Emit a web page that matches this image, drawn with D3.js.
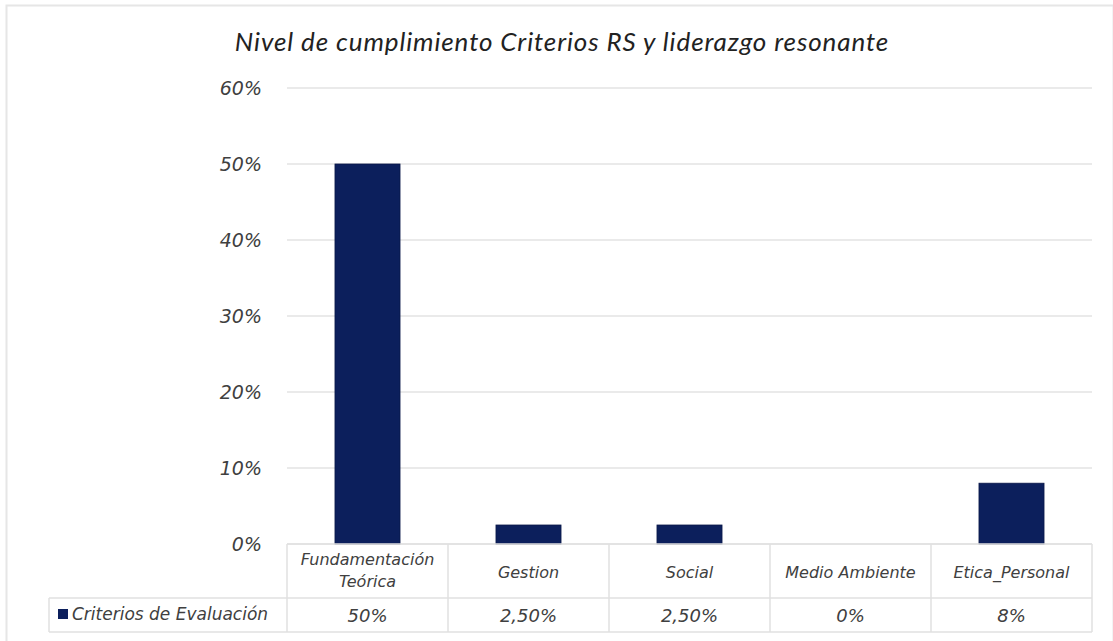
<!DOCTYPE html>
<html>
<head>
<meta charset="utf-8">
<script src="https://cdn.jsdelivr.net/npm/d3@7"></script>
<style>
  body { margin: 0; background: #fff; }
  svg text { font-family: "DejaVu Sans", sans-serif; font-style: italic; }
</style>
</head>
<body>
<svg id="chart"></svg>
<script>
const categories = ["Fundamentación\nTeórica", "Gestion", "Social", "Medio Ambiente", "Etica_Personal"];
const values = [0.50, 0.025, 0.025, 0, 0.08];
const valueLabels = ["50%", "2,50%", "2,50%", "0%", "8%"];
const yTicks = [0, 0.1, 0.2, 0.3, 0.4, 0.5, 0.6];
const seriesName = "Criterios de Evaluación";
const title = "Nivel de cumplimiento Criterios RS y liderazgo resonante";

const W = 1113, H = 641;
const barColor = "#0c1f5c";
const textColor = "#404040";
const gridColor = "#e3e3e3";

const svg = d3.select("#chart").attr("width", W).attr("height", H);

// outer chart border
svg.append("rect")
  .attr("x", 6.5).attr("y", 5.5).attr("width", W - 6).attr("height", H - 4)
  .style("fill", "#fff").style("stroke", "#e6e6e6").style("stroke-width", 2);

svg.append("text")
  .text(title)
  .attr("x", 562).attr("y", 51)
  .attr("text-anchor", "middle")
  .style("fill", "#222")
  .style("font-family", "Lato, sans-serif")
  .style("letter-spacing", "0.9px")
  .style("font-size", "26px");

const plot = { left: 287, right: 1092, top: 88, bottom: 544 };

const x = d3.scaleBand()
  .domain(categories)
  .range([plot.left, plot.right])
  .paddingInner(0.596)
  .paddingOuter(0.298);

const y = d3.scaleLinear()
  .domain([0, 0.6])
  .range([plot.bottom, plot.top]);

// gridlines
svg.append("g")
  .selectAll("line")
  .data(yTicks)
  .enter().append("line")
  .attr("x1", plot.left).attr("x2", plot.right)
  .attr("y1", d => y(d)).attr("y2", d => y(d))
  .style("stroke", gridColor).style("stroke-width", 1.5);

// y axis labels
const yAxis = svg.append("g")
  .attr("transform", "translate(" + (plot.left - 22) + ",0)")
  .call(d3.axisLeft(y).tickValues(yTicks).tickFormat(d3.format(".0%")).tickSize(0));
yAxis.select(".domain").remove();
yAxis.selectAll("text")
  .style("font-size", "19px")
  .style("fill", textColor)
  .style("font-family", "DejaVu Sans, sans-serif")
  .style("font-style", "italic");

// bars
svg.append("g")
  .selectAll("rect")
  .data(values)
  .enter().append("rect")
  .attr("x", (d, i) => x(categories[i]))
  .attr("width", x.bandwidth())
  .attr("y", d => y(d))
  .attr("height", d => y(0) - y(d))
  .style("fill", barColor)
  .style("stroke", "#0a1848").style("stroke-width", 0.8);

// data table
const colW = x.step();
const tableLeft = 49;
const rowTop = plot.bottom, rowMid = 598, rowBot = 632;
const table = svg.append("g").style("stroke", "#e0e0e0").style("stroke-width", 1.5);

table.append("line").attr("x1", plot.left).attr("x2", plot.right).attr("y1", rowTop).attr("y2", rowTop);
table.append("line").attr("x1", tableLeft).attr("x2", plot.right).attr("y1", rowMid).attr("y2", rowMid);
table.append("line").attr("x1", tableLeft).attr("x2", plot.right).attr("y1", rowBot).attr("y2", rowBot);
table.append("line").attr("x1", tableLeft).attr("x2", tableLeft).attr("y1", rowMid).attr("y2", rowBot);
for (let i = 0; i <= categories.length; i++) {
  table.append("line")
    .attr("x1", plot.left + colW * i).attr("x2", plot.left + colW * i)
    .attr("y1", rowTop).attr("y2", rowBot);
}

categories.forEach((c, i) => {
  const lines = c.split("\n");
  const cx = x(c) + x.bandwidth() / 2;
  const startY = lines.length > 1 ? 565 : 578;
  lines.forEach((ln, j) => {
    svg.append("text")
      .text(ln)
      .attr("x", cx).attr("y", startY + j * 22)
      .attr("text-anchor", "middle")
      .style("fill", textColor)
      .style("font-size", "16px");
  });
  svg.append("text")
    .text(valueLabels[i])
    .attr("x", cx).attr("y", 622)
    .attr("text-anchor", "middle")
    .style("fill", textColor)
    .style("font-size", "18px");
});

// legend key in table
svg.append("rect")
  .attr("x", 58).attr("y", 609).attr("width", 10).attr("height", 10)
  .style("fill", barColor);
svg.append("text")
  .text(seriesName)
  .attr("x", 72).attr("y", 620)
  .style("fill", textColor)
  .style("font-size", "17px");
</script>
</body>
</html>
